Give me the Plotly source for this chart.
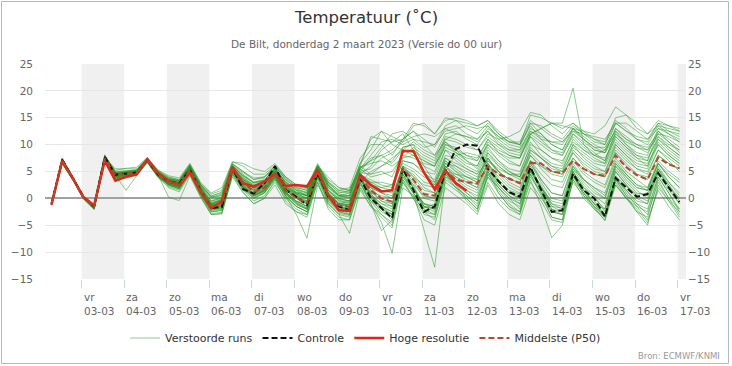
import plotly.graph_objects as go
import pandas as pd

# ---------------- data ----------------
times = pd.date_range("2023-03-02 07:00", periods=60, freq="6h")

controle = [-1.0, 7.2, 3.8, 0.3, -1.5, 7.7, 4.4, 4.6, 4.8, 7.1, 4.5,
            3.1, 2.8, 5.3, 1.5, -1.8, -1.6, 5.6, 1.7, 0.9, 2.8,
            6.0, 1.6, 0.3, -1.2, 4.7, 0.3, -1.5, -2.2, 3.7, 0.0,
            -1.8, -3.7, 5.6, 1.6, -2.5, -1.5, 5.0, 9.2, 10.0, 9.8,
            5.5, 3.2, 1.2, 0.3, 5.8, 1.6, -2.5, -2.2, 4.6, 1.5,
            0.0, -3.4, 3.8, 2.0, 0.3, 0.8, 4.7, 2.0, -0.7]

hoge_resolutie = [-1.2, 7.0, 3.7, 0.2, -1.3, 7.0, 3.3, 4.0, 4.5, 7.3, 4.7,
                  3.2, 2.5, 4.8, 1.3, -1.8, -0.6, 5.8, 2.8, 2.2, 3.1,
                  4.6, 2.3, 2.5, 2.2, 5.3, 0.6, -2.2, -2.3, 4.4, 2.5,
                  1.3, 1.5, 8.8, 8.8, 4.8, 1.7, 5.2, 2.8, 1.4]

middelste = [-1.0, 6.9, 3.7, 0.2, -1.5, 7.4, 4.3, 4.5, 4.8, 7.1, 4.5,
             3.0, 2.4, 5.3, 1.5, -1.5, -0.9, 5.4, 3.0, 1.2, 2.0,
             4.5, 1.5, 0.0, -0.8, 5.0, 0.6, -1.3, -1.6, 4.0, 1.5,
             0.0, -0.6, 5.5, 3.5, 0.8, 0.5, 5.0, 3.5, 3.0, 2.8,
             6.0, 4.5, 3.7, 2.8, 6.6, 6.5, 5.0, 4.7, 7.0, 5.5,
             4.5, 4.2, 8.0, 5.8, 4.3, 3.5, 7.6, 6.3, 5.6]

m01 = [-1.1, 6.9, 3.7, 0.1, -1.6, 7.6, 4.5, 4.6, 4.9, 7.2, 4.6, 3.2, 2.6, 5.4, 1.4, -1.7, -1.4, 5.5, 2.0, 1.0, 2.5, 5.6, 1.8, 0.4, -1.0, 4.8, 0.6, -1.4, -2.0, 3.9, 0.5, -1.5, -3.0, 5.2, 2.0, -1.8, -1.0, 5.5, 8.0, 8.5, 8.0, 6.5, 3.5, 1.5, 0.8, 6.0, 2.0, -1.5, -1.8, 5.0, 2.0, 0.5, -2.5, 4.2, 2.2, 0.8, 1.0, 5.0, 2.5, 0.0]
m02 = [-0.9, 7.3, 3.9, 0.3, -1.3, 7.8, 4.2, 4.3, 4.7, 7.0, 4.3, 2.8, 2.2, 5.8, 1.9, -1.0, -0.5, 5.9, 3.8, 2.5, 3.0, 5.0, 2.5, 1.0, 0.5, 5.5, 1.5, -0.5, -1.0, 4.5, 6.0, 9.0, 10.5, 11.0, 12.5, 11.0, 9.5, 13.0, 13.5, 12.0, 11.0, 13.5, 11.0, 9.5, 9.0, 13.0, 12.0, 10.0, 9.0, 12.5, 11.0, 9.0, 8.5, 13.0, 11.0, 9.5, 8.5, 12.0, 10.5, 9.0]
m03 = [-1.2, 6.5, 3.5, 0.0, -1.8, 7.2, 4.0, 4.4, 4.6, 6.9, 4.4, 3.0, 2.3, 5.0, 1.0, -2.0, -2.0, 5.0, 2.5, 0.5, 1.5, 4.0, 1.0, -1.0, -2.0, 4.5, 0.0, -2.5, -3.0, 3.5, 1.0, -2.0, -4.0, 4.5, 1.0, -6.0, -12.8, 3.5, 2.0, 0.5, -1.0, 4.0, 2.0, 0.0, -2.0, 4.5, 1.0, -3.5, -4.0, 4.0, 1.5, -1.0, -3.0, 3.5, 1.5, -1.0, -2.0, 4.0, 1.0, -2.5]
m04 = [-1.0, 7.1, 3.8, 0.2, -1.4, 7.4, 4.6, 4.8, 5.0, 7.3, 4.7, 3.4, 2.9, 5.6, 1.8, -1.2, -0.8, 5.4, 3.0, 1.5, 2.2, 4.8, 1.2, -0.5, -1.5, 4.2, -0.5, -2.0, -2.5, 3.0, -1.0, -4.5, -10.2, 2.0, 0.5, -2.5, -3.0, 4.0, 3.0, 1.5, 0.0, 5.5, 3.0, 1.0, 0.0, 5.0, 2.5, -1.0, -1.5, 5.5, 3.5, 2.0, 0.5, 6.0, 4.0, 2.0, 1.5, 6.5, 4.0, 2.0]
m05 = [-0.8, 7.5, 4.0, 0.4, -1.2, 8.0, 5.0, 5.2, 5.3, 7.5, 5.0, 3.8, 3.2, 6.2, 2.5, 0.5, 1.0, 6.5, 5.0, 3.5, 4.0, 6.0, 3.5, 2.0, 1.5, 6.0, 2.5, 0.5, 1.0, 6.5, 9.0, 12.5, 11.5, 10.5, 13.5, 14.0, 12.0, 14.5, 15.0, 14.5, 13.5, 14.5, 12.0, 10.5, 10.0, 15.5, 15.0, 14.0, 13.0, 14.0, 12.5, 12.0, 13.5, 17.0, 15.5, 13.0, 12.0, 14.5, 13.5, 13.0]
m06 = [-1.1, 6.8, 3.6, 0.1, -1.7, 7.3, 3.5, 3.8, 4.5, 6.8, 4.0, 2.5, 1.8, 4.8, 0.8, -2.5, -2.2, 4.8, 2.0, 0.0, 1.0, 3.5, 0.5, -1.5, -2.5, 4.0, 1.0, -1.0, -0.5, 5.0, 7.5, 8.0, 6.5, 9.0, 8.0, 6.0, 5.0, 10.0, 9.5, 8.0, 7.5, 11.0, 8.5, 7.0, 6.0, 11.5, 9.0, 7.5, 6.5, 11.0, 9.0, 7.5, 6.5, 11.5, 9.5, 7.5, 6.0, 11.0, 9.0, 7.5]
m07 = [-1.3, 6.6, 3.6, 0.0, -1.9, 7.0, 3.9, 4.1, 4.4, 6.8, 4.2, 2.7, 2.0, 5.1, 1.2, -1.8, -1.2, 5.2, 2.8, 1.2, 2.0, 4.5, 1.5, 0.0, -0.8, 5.0, 0.8, -1.2, -1.5, 4.2, 1.5, -0.5, -1.5, 5.5, 3.0, 0.0, -0.5, 6.0, 4.0, 2.5, 1.5, 6.0, 3.0, 1.0, 0.5, 6.5, 3.0, 0.0, -0.5, 6.0, 3.0, 1.0, 0.0, 5.5, 3.0, 1.0, 0.5, 6.0, 3.0, 0.5]
m08 = [-1.0, 7.0, 3.9, 0.3, -1.4, 7.7, 4.4, 4.7, 5.1, 7.4, 4.8, 3.5, 3.0, 5.9, 2.2, -0.5, 0.0, 6.0, 4.0, 2.5, 3.0, 5.5, 2.8, 1.5, 0.5, 5.8, 2.0, 0.0, -0.5, 4.5, 3.0, 2.0, 1.5, 7.0, 6.5, 4.5, 3.5, 9.0, 8.0, 6.5, 6.0, 10.5, 9.0, 8.0, 7.5, 12.0, 13.0, 14.0, 14.0, 20.5, 10.0, 8.5, 7.0, 12.5, 10.0, 8.0, 7.0, 12.5, 10.5, 8.5]
m09 = [-1.2, 6.4, 3.4, -0.1, -2.1, 6.8, 3.8, 4.0, 4.3, 6.6, 4.0, 2.2, 1.5, 4.6, 0.6, -2.8, -2.6, 4.5, 1.5, -0.5, 0.5, 3.0, 0.0, -2.0, -3.0, 3.5, -1.0, -3.0, -3.5, 2.5, 0.0, -2.5, -3.5, 4.0, 1.5, -1.0, -2.0, 4.5, 2.5, 1.0, -0.5, 5.0, 1.0, -1.5, -2.5, 3.5, -1.5, -7.3, -5.0, 3.5, 1.0, -1.5, -4.2, 2.5, 0.0, -2.0, -4.5, 2.0, -0.5, -3.5]
m10 = [-0.9, 7.2, 3.8, 0.2, -1.5, 7.5, 5.5, 5.5, 5.5, 7.5, 5.2, 4.0, 3.5, 6.4, 2.8, 0.8, 1.5, 6.8, 6.0, 4.5, 4.5, 6.2, 4.0, 2.5, 2.0, 6.5, 3.0, 1.0, 1.5, 6.0, 4.5, 5.0, 4.0, 8.5, 9.0, 7.5, 6.5, 11.0, 12.0, 11.5, 10.5, 12.5, 10.0, 8.5, 8.0, 12.0, 10.5, 9.0, 8.0, 11.5, 9.5, 8.0, 7.0, 12.0, 10.0, 8.5, 8.0, 13.0, 12.0, 11.0]
m11 = [-1.1, 7.0, 3.7, 0.2, -1.6, 7.5, 4.3, 1.5, 4.2, 7.0, 4.4, 0.2, -0.4, 4.2, 0.2, -3.0, -2.8, 4.0, 1.0, -1.0, 0.0, 3.5, -0.5, -2.5, -3.5, 3.0, -1.5, -3.5, -4.0, 2.0, -1.5, -3.0, -5.0, 3.0, 0.0, -3.0, -3.5, 3.0, 1.5, 0.0, -2.0, 3.0, 0.0, -2.0, -3.0, 3.0, 0.0, -2.5, -3.0, 4.0, 1.0, -1.5, -3.5, 3.5, 0.5, -1.0, -3.0, 3.0, 0.0, -2.0]
m12 = [-1.0, 6.9, 3.8, 0.3, -1.3, 7.6, 4.4, 4.5, 4.8, 7.2, 4.6, 3.1, 2.6, 5.3, 1.6, -1.4, -0.6, 5.6, 3.5, 2.0, 2.8, 4.8, 2.0, 0.8, 0.0, 5.2, 1.2, -0.8, -1.2, 4.6, 2.5, 1.5, 1.0, 9.5, 10.0, 6.0, 3.0, 7.5, 6.0, 4.5, 3.5, 8.0, 6.0, 4.5, 3.5, 8.5, 6.5, 5.0, 4.5, 9.0, 7.0, 5.5, 5.0, 9.5, 7.5, 5.5, 5.0, 9.0, 7.5, 6.0]
m13 = [-0.9, 7.4, 4.0, 0.4, -1.2, 8.1, 4.8, 4.9, 5.2, 7.4, 4.9, 3.6, 3.3, 6.0, 2.4, 0.2, 0.8, 6.2, 4.5, 3.0, 3.5, 5.5, 3.0, 1.8, 1.0, 6.2, 3.5, 2.0, 1.5, 6.5, 11.0, 12.5, 10.0, 9.0, 10.5, 9.0, 8.0, 12.0, 12.5, 11.0, 10.0, 13.0, 11.5, 10.0, 9.5, 14.0, 12.0, 10.0, 9.0, 13.0, 12.5, 11.0, 10.5, 14.5, 13.0, 11.0, 10.0, 13.5, 12.0, 10.5]
m14 = [-1.2, 6.7, 3.6, 0.0, -1.8, 7.1, 3.7, 3.9, 4.4, 6.9, 4.1, 2.6, 1.9, 4.9, 1.0, -2.2, -1.8, 5.0, 2.2, 0.5, 1.5, 4.0, 0.5, -3.0, -7.4, 2.5, -1.0, -3.0, -6.5, 1.5, -1.5, -3.5, -5.5, 3.0, 0.5, -2.5, -4.0, 4.0, 2.0, 0.5, -1.5, 4.5, 2.0, 0.0, -1.0, 5.5, 2.0, -1.0, -2.0, 5.0, 2.0, 0.0, -2.0, 5.0, 2.5, 0.0, -1.0, 5.5, 2.5, -0.5]
m15 = [-1.0, 7.1, 3.9, 0.3, -1.4, 7.4, 4.5, 4.6, 4.9, 7.1, 4.5, 3.3, 2.8, 5.5, 1.7, -1.1, -0.4, 5.7, 3.2, 1.8, 2.5, 5.0, 2.2, 1.0, 0.5, 5.5, 2.0, 0.5, 0.0, 5.5, 7.0, 8.0, 9.0, 11.0, 14.0, 13.5, 12.0, 15.0, 14.5, 13.0, 12.0, 14.0, 12.0, 10.5, 10.0, 13.5, 11.0, 9.0, 8.5, 12.0, 10.0, 8.0, 7.5, 11.0, 9.0, 7.5, 7.0, 11.5, 9.5, 8.0]
m16 = [-1.1, 6.8, 3.7, 0.2, -1.5, 7.3, 4.2, 4.4, 4.7, 7.0, 4.4, 2.9, 2.4, 5.2, 1.3, -1.6, -1.0, 5.3, 2.6, 1.0, 1.8, 4.2, 1.0, -0.5, -1.0, 4.6, 0.3, -1.8, -2.0, 3.8, 1.0, 0.5, 0.0, 6.0, 4.0, 2.5, 2.0, 7.0, 5.0, 4.0, 3.0, 7.5, 5.0, 3.5, 3.0, 8.0, 6.0, 4.5, 4.0, 8.5, 6.0, 4.5, 4.0, 8.5, 6.0, 4.5, 3.5, 8.0, 6.5, 5.5]
m17 = [-1.0, 7.2, 3.8, 0.2, -1.4, 7.7, 4.6, 4.8, 5.0, 7.3, 4.8, 3.5, 3.1, 5.9, 2.1, -0.6, 0.2, 6.0, 4.2, 2.8, 3.2, 5.8, 2.8, 1.2, 0.8, 5.8, 2.5, 0.8, 0.5, 5.5, 4.0, 4.5, 5.0, 8.0, 7.5, 6.5, 6.0, 10.0, 9.0, 8.0, 7.0, 11.0, 9.5, 8.0, 7.5, 11.5, 10.0, 8.5, 8.0, 12.0, 10.5, 9.0, 8.5, 13.0, 11.5, 10.0, 9.0, 12.5, 11.0, 9.5]
m18 = [-1.1, 7.0, 3.8, 0.2, -1.5, 7.4, 4.1, 4.3, 4.6, 7.0, 4.3, 2.8, 2.4, 5.0, 1.0, -2.0, -1.8, 5.2, 1.8, 0.5, 1.5, 4.5, 1.0, -0.5, -1.5, 4.5, 0.0, -2.0, -2.5, 3.5, 0.0, -1.5, -2.5, 5.0, 2.0, -1.0, -1.5, 5.0, 4.0, 3.0, 2.0, 6.5, 3.0, 1.0, 0.0, 5.5, 1.5, -2.0, -2.5, 4.5, 1.5, -0.5, -3.0, 4.0, 1.5, -0.5, -1.0, 4.5, 1.5, -1.0]
m19 = [-0.9, 7.3, 3.9, 0.3, -1.3, 7.9, 4.7, 5.0, 5.2, 7.4, 4.9, 3.6, 3.4, 6.1, 2.6, 0.3, 0.5, 6.3, 4.8, 3.5, 3.8, 6.0, 3.5, 2.0, 1.5, 6.2, 2.5, 0.5, 0.5, 5.8, 6.5, 7.0, 6.0, 7.5, 9.5, 8.0, 7.0, 11.5, 11.0, 10.0, 9.0, 12.0, 11.0, 11.5, 12.5, 16.0, 15.5, 13.5, 12.0, 14.0, 12.0, 10.5, 10.0, 14.0, 12.5, 11.0, 10.5, 14.0, 13.5, 12.5]
m20 = [-1.3, 6.5, 3.5, -0.1, -2.0, 6.9, 3.6, 3.8, 4.2, 6.7, 3.9, 2.0, 1.2, 4.4, 0.4, -3.0, -2.9, 4.3, 1.2, -1.0, 0.0, 2.5, -1.0, -2.5, -3.0, 3.0, -2.0, -4.0, -4.0, 2.0, -0.5, -2.0, -3.0, 3.5, 0.0, -4.0, -5.0, 2.0, 0.5, -1.0, -3.0, 2.5, -1.0, -3.0, -4.0, 2.0, -0.5, -4.0, -4.5, 3.5, 0.0, -2.0, -3.5, 3.0, 0.0, -1.5, -4.0, 1.5, -1.5, -4.0]
m21 = [-1.0, 7.0, 3.8, 0.3, -1.4, 7.5, 4.4, 4.6, 4.9, 7.1, 4.6, 3.2, 2.7, 5.5, 1.6, -1.2, -0.2, 5.7, 3.5, 2.2, 2.8, 5.2, 2.0, 0.5, 0.0, 5.2, 1.5, 0.0, -0.5, 4.0, 3.0, 3.0, 2.5, 6.5, 5.5, 4.0, 3.0, 8.0, 7.5, 6.0, 5.0, 9.0, 7.0, 5.5, 5.0, 9.5, 7.5, 6.0, 5.5, 9.5, 8.0, 6.5, 6.0, 10.0, 8.0, 6.5, 6.0, 10.5, 8.5, 7.0]
m22 = [-1.1, 6.9, 3.7, 0.1, -1.6, 7.2, 4.0, 4.2, 4.5, 6.9, 4.2, 2.6, 2.0, 5.0, 1.1, -1.9, -1.5, 5.0, 2.5, 0.8, 1.6, 4.4, 1.2, -0.8, -1.8, 4.4, 0.2, -1.6, -2.2, 3.6, 0.8, -1.0, -2.0, 5.0, 2.5, 0.5, 0.0, 6.0, 3.5, 2.0, 1.0, 5.5, 2.5, 0.5, -0.5, 5.0, 2.0, -0.5, -1.0, 5.5, 2.5, 0.5, -1.0, 5.0, 2.5, 0.5, -0.5, 5.0, 2.0, 0.0]
m23 = [-0.9, 7.4, 4.0, 0.4, -1.2, 7.9, 5.2, 5.6, 5.8, 7.6, 5.3, 4.2, 3.8, 6.5, 3.0, 1.0, 2.0, 6.8, 6.5, 5.5, 5.0, 6.5, 4.0, 2.5, 2.5, 6.0, 4.0, 2.0, 1.5, 5.5, 8.0, 10.5, 11.0, 10.0, 11.0, 10.5, 10.0, 13.5, 14.5, 14.0, 13.5, 14.5, 12.5, 11.0, 10.0, 14.0, 13.5, 12.0, 11.0, 13.5, 12.0, 11.0, 10.0, 15.0, 15.5, 14.0, 12.0, 13.5, 13.0, 12.5]
m24 = [-1.2, 6.6, 3.5, 0.0, -1.9, 7.0, 3.8, 4.0, 4.3, 6.8, 4.1, 2.4, 1.7, 4.7, 0.7, -2.5, -2.3, 4.6, 1.8, 0.2, 1.0, 3.8, 0.2, -1.5, -2.5, 3.8, -0.5, -2.5, -3.0, 3.0, 5.0, 6.0, 7.5, 9.0, 8.5, 5.0, 2.5, 7.0, 5.5, 4.0, 3.0, 7.5, 5.0, 3.0, 2.0, 7.0, 4.5, 2.5, 2.0, 7.0, 4.5, 3.0, 2.0, 7.0, 4.5, 2.5, 2.0, 6.5, 4.5, 3.0]
m25 = [-1.1, 7.1, 3.8, 0.2, -1.5, 7.4, 4.3, 4.5, 4.8, 7.1, 4.5, 3.0, 2.4, 5.4, 1.5, -1.5, -1.2, 5.4, 2.4, 0.8, 2.0, 4.6, 1.4, 0.2, -0.5, 5.0, 0.8, -1.0, -1.5, 4.0, 0.5, -1.0, -1.5, 5.5, 2.5, -1.5, -2.0, 5.5, 3.0, 1.0, -0.5, 5.0, 2.0, -0.5, -1.5, 5.0, 1.5, -2.5, -3.0, 5.0, 1.0, -1.0, -2.0, 6.0, 3.5, 1.5, 0.0, 5.5, 2.0, -1.0]
m26 = [-1.0, 7.2, 3.9, 0.3, -1.4, 7.6, 4.8, 5.0, 5.2, 7.3, 5.0, 3.7, 3.2, 6.0, 2.3, 0.0, 0.6, 6.1, 4.2, 3.0, 3.4, 5.6, 3.2, 1.6, 1.2, 5.8, 2.8, 1.2, 1.0, 5.0, 5.5, 7.5, 8.5, 10.5, 11.5, 12.0, 11.5, 13.0, 12.0, 11.5, 11.0, 12.5, 10.5, 9.0, 9.0, 12.5, 11.5, 10.5, 10.0, 13.0, 11.0, 9.5, 9.5, 12.5, 11.0, 10.0, 9.5, 12.0, 11.5, 10.5]
m27 = [-1.2, 6.7, 3.6, 0.1, -1.7, 7.2, 4.0, 4.2, 4.5, 6.9, 4.2, 2.6, 2.1, 5.1, 1.2, -1.9, -1.6, 5.1, 2.0, 0.5, 1.2, 4.0, 0.8, -1.2, -2.0, 4.2, -0.2, -2.2, -2.8, 2.8, -1.0, -6.0, -4.0, 3.5, 1.0, -1.5, -2.5, 5.0, 4.5, 4.0, 3.5, 8.5, 6.5, 5.0, 4.0, 9.0, 7.5, 6.0, 5.0, 10.0, 7.5, 6.0, 5.0, 10.0, 8.0, 6.0, 5.5, 10.0, 8.0, 6.5]
m28 = [-1.0, 7.0, 3.8, 0.2, -1.5, 7.5, 4.4, 4.6, 4.8, 7.1, 4.5, 3.1, 2.5, 5.4, 1.6, -1.3, -0.7, 5.5, 3.0, 1.4, 2.2, 4.6, 1.6, 0.2, -0.8, 5.0, 0.8, -1.2, -1.5, 4.2, 2.0, 1.0, 0.5, 6.0, 5.0, 3.0, 2.5, 7.5, 6.5, 5.5, 4.5, 7.0, 5.0, 3.5, 3.0, 7.0, 6.0, 5.0, 4.5, 7.5, 5.5, 4.5, 4.0, 8.5, 6.5, 4.5, 4.0, 8.0, 6.5, 5.5]
m29 = [-0.9, 7.3, 3.9, 0.3, -1.3, 7.8, 4.6, 4.8, 5.0, 7.3, 4.7, 3.4, 2.9, 5.8, 2.0, -0.8, -0.1, 5.8, 3.8, 2.2, 2.8, 5.4, 2.4, 1.0, 0.5, 5.6, 2.2, 0.3, 0.5, 6.0, 11.5, 11.0, 10.5, 12.0, 9.0, 7.0, 6.0, 10.5, 9.0, 7.0, 5.5, 9.5, 7.0, 5.0, 4.0, 8.0, 5.5, 3.5, 3.0, 7.5, 5.0, 3.5, 2.5, 7.5, 5.0, 3.5, 2.0, 7.0, 5.0, 3.5]
m30 = [-1.1, 6.8, 3.7, 0.1, -1.6, 7.3, 4.2, 4.4, 4.7, 7.0, 4.3, 2.9, 2.3, 5.1, 1.3, -1.8, -1.4, 5.3, 2.3, 0.6, 1.4, 4.2, 0.8, -0.8, -1.8, 4.5, 0.4, -1.6, -2.0, 4.0, 0.5, -2.0, -3.0, 4.5, 1.5, -1.0, -1.5, 5.0, 2.5, 0.0, -2.0, 4.0, 1.0, -1.5, -3.0, 5.5, 2.0, -1.5, -2.5, 4.5, 1.5, -1.0, -3.5, 4.0, 1.0, -1.5, -2.5, 4.0, 1.0, -2.0]
m31 = [-1.0, 6.9, 3.7, 0.2, -1.5, 7.5, 4.4, 4.7, 5.0, 7.2, 4.6, 3.3, 2.7, 5.5, 1.7, -1.4, -1.0, 5.6, 2.8, 1.6, 2.6, 5.0, 2.0, 0.6, -0.4, 5.2, 1.0, -1.0, -1.2, 4.3, 2.0, 0.0, -1.0, 6.0, 4.0, 1.5, 1.0, 6.5, 6.0, 5.0, 4.0, 7.5, 4.5, 2.5, 1.5, 7.0, 3.5, 1.0, 0.5, 6.5, 3.5, 2.0, 1.0, 6.5, 4.0, 2.0, 1.5, 6.5, 4.0, 2.0]
m32 = [-0.9, 7.2, 3.9, 0.3, -1.3, 7.7, 4.9, 5.1, 5.3, 7.4, 5.1, 3.9, 3.4, 6.2, 2.6, 0.4, 1.2, 6.4, 5.0, 3.8, 4.0, 6.0, 3.8, 2.2, 1.8, 6.0, 3.2, 1.5, 1.2, 5.8, 7.0, 9.5, 12.0, 12.5, 11.0, 9.5, 10.0, 12.5, 13.0, 13.5, 13.0, 13.5, 11.5, 10.5, 10.5, 14.5, 13.0, 11.5, 10.5, 12.5, 12.0, 11.5, 11.0, 14.0, 12.5, 11.5, 11.0, 14.0, 12.5, 11.5]
m33 = [-1.2, 6.6, 3.5, 0.0, -1.9, 7.1, 3.9, 4.1, 4.4, 6.8, 4.1, 2.5, 1.8, 4.8, 0.9, -2.3, -2.1, 4.7, 1.6, 0.0, 1.0, 3.8, 0.5, -1.5, -2.5, 4.0, -0.8, -2.8, -3.2, 3.0, -0.5, -3.0, -4.5, 4.0, 1.0, -2.0, -3.0, 4.5, 2.0, -0.5, -2.5, 4.5, 1.5, -1.0, -2.5, 4.5, 0.5, -3.5, -4.0, 4.5, 0.5, -2.0, -4.0, 3.5, 0.5, -2.5, -3.5, 3.5, 0.0, -3.0]
m34 = [-1.0, 7.1, 3.8, 0.2, -1.4, 7.6, 4.5, 4.7, 4.9, 7.2, 4.6, 3.3, 2.8, 5.6, 1.8, -1.0, -0.3, 5.8, 3.4, 2.0, 2.6, 5.0, 2.2, 0.8, 0.2, 5.4, 1.4, -0.4, -0.8, 4.4, 3.5, 2.5, 2.0, 7.0, 6.5, 5.0, 4.5, 9.0, 7.0, 5.5, 4.5, 8.5, 6.0, 4.5, 4.0, 9.0, 7.5, 5.5, 5.0, 8.5, 6.5, 5.0, 4.5, 9.0, 7.0, 5.5, 4.5, 9.0, 7.0, 5.0]
m35 = [-1.1, 6.9, 3.7, 0.2, -1.5, 7.4, 4.6, 4.8, 5.0, 7.2, 4.7, 3.3, 2.9, 5.7, 1.9, -0.9, -0.2, 5.8, 3.6, 2.3, 2.9, 5.3, 2.6, 1.2, 0.6, 5.6, 2.4, 0.6, 0.2, 4.8, 4.5, 6.0, 7.0, 9.5, 10.0, 8.5, 7.5, 11.0, 10.5, 9.5, 9.0, 11.5, 10.0, 9.0, 8.5, 12.5, 11.0, 10.5, 10.5, 13.0, 11.5, 10.0, 9.0, 12.0, 10.5, 9.5, 9.0, 11.5, 10.0, 9.0]
m36 = [-1.2, 6.8, 3.6, 0.1, -1.7, 7.3, 4.1, 4.3, 4.6, 6.9, 4.3, 2.8, 2.2, 5.1, 1.2, -1.8, -1.3, 5.1, 2.2, 0.8, 1.7, 4.3, 1.2, -0.6, -1.4, 4.7, 0.4, -1.5, -1.8, 3.9, 1.2, -0.5, -1.0, 5.8, 3.5, 0.5, 0.0, 6.0, 4.5, 3.5, 2.5, 6.5, 4.0, 2.0, 1.0, 6.5, 3.5, 1.0, 0.5, 6.0, 3.5, 1.5, 0.0, 6.5, 4.5, 2.5, 1.5, 5.5, 3.0, 1.0]
m37 = [-1.0, 7.0, 3.8, 0.3, -1.4, 7.5, 4.5, 4.6, 4.9, 7.1, 4.6, 3.2, 2.6, 5.4, 1.6, -1.3, -0.8, 5.5, 3.1, 1.6, 2.4, 4.8, 1.8, 0.4, -0.6, 5.1, 1.0, -1.0, -1.2, 4.3, 2.0, 1.0, 0.0, 5.5, 4.5, 2.0, 1.0, 6.5, 5.0, 3.0, 2.0, 7.0, 5.5, 4.5, 4.5, 10.0, 9.0, 7.5, 7.0, 10.5, 9.0, 8.0, 9.0, 14.0, 14.0, 12.5, 11.0, 13.0, 12.5, 12.0]
m38 = [-1.1, 6.8, 3.6, 0.1, -1.6, 7.2, 4.0, 4.2, 4.5, 6.9, 4.3, 2.7, 2.1, 5.0, 1.1, -2.0, -1.7, 5.0, 2.1, 0.4, 1.3, 4.1, 0.9, -1.0, -2.0, 4.2, 0.0, -2.0, -2.5, 3.4, 0.5, -1.5, -2.5, 4.5, 2.0, -1.5, -2.0, 4.5, 3.0, 1.5, 0.5, 5.0, 2.5, 0.5, -1.0, 4.0, 1.0, -2.0, -3.0, 3.0, 0.5, -1.5, -3.0, 2.5, 0.0, -2.5, -5.0, 2.5, -0.5, -2.5]
m39 = [-0.9, 7.3, 3.9, 0.3, -1.3, 7.7, 4.6, 4.8, 5.1, 7.3, 4.8, 3.5, 3.0, 5.9, 2.2, -0.4, 0.3, 6.0, 4.3, 2.9, 3.3, 5.6, 3.0, 1.5, 1.0, 6.0, 3.0, 1.5, 2.0, 7.5, 10.0, 10.0, 8.0, 11.0, 12.5, 10.0, 8.0, 10.5, 8.5, 7.0, 6.0, 10.0, 8.0, 6.5, 6.0, 10.5, 8.0, 6.5, 6.0, 10.0, 8.5, 7.0, 6.5, 10.5, 8.5, 7.0, 6.5, 10.0, 8.0, 6.5]
m40 = [-1.0, 7.1, 3.8, 0.2, -1.5, 7.5, 4.5, 4.7, 4.9, 7.2, 4.7, 3.4, 2.9, 5.6, 1.8, -1.1, -0.4, 5.7, 3.3, 1.9, 2.6, 5.1, 2.2, 0.8, 0.0, 5.3, 1.6, -0.2, -0.5, 4.4, 2.5, 2.0, 2.5, 7.5, 8.0, 7.0, 6.0, 9.5, 8.5, 7.5, 7.0, 10.0, 8.5, 7.5, 7.5, 12.0, 13.0, 14.0, 13.5, 13.0, 11.0, 9.5, 8.5, 11.5, 9.5, 8.0, 7.5, 11.0, 9.5, 8.0]

verstoorde_runs = [m01, m02, m03, m04, m05, m06, m07, m08, m09, m10,
                   m11, m12, m13, m14, m15, m16, m17, m18, m19, m20,
                   m21, m22, m23, m24, m25, m26, m27, m28, m29, m30,
                   m31, m32, m33, m34, m35, m36, m37, m38, m39, m40]

day_names = ["vr", "za", "zo", "ma", "di", "wo", "do", "vr", "za", "zo", "ma", "di", "wo", "do", "vr"]
day_dates = ["03-03", "04-03", "05-03", "06-03", "07-03", "08-03", "09-03", "10-03",
             "11-03", "12-03", "13-03", "14-03", "15-03", "16-03", "17-03"]
y_ticks = [-15, -10, -5, 0, 5, 10, 15, 20, 25]

# ---------------- figure ----------------
FONT = "DejaVu Sans"
days = pd.date_range("2023-03-03", periods=15, freq="D")
x_min = pd.Timestamp("2023-03-02 03:19")
x_max = pd.Timestamp("2023-03-17 04:41")

fig = go.Figure()

for k, run in enumerate(verstoorde_runs):
    fig.add_trace(go.Scatter(
        x=times, y=run, mode="lines",
        line=dict(color="rgba(30,150,30,0.5)", width=1),
        name="Verstoorde runs", legendgroup="ens", showlegend=(k == 0),
        hoverinfo="skip"))

fig.add_trace(go.Scatter(x=times, y=controle, mode="lines",
                         line=dict(color="#111111", width=2, dash="6px,3px"),
                         name="Controle"))
fig.add_trace(go.Scatter(x=times[:len(hoge_resolutie)], y=hoge_resolutie, mode="lines",
                         line=dict(color="#e0261b", width=2.5),
                         name="Hoge resolutie"))
fig.add_trace(go.Scatter(x=times, y=middelste, mode="lines",
                         line=dict(color="#b8462f", width=2, dash="6px,3px"),
                         name="Middelste (P50)"))
# invisible trace to carry the right-hand axis
fig.add_trace(go.Scatter(x=times, y=controle, yaxis="y2", mode="lines",
                         line=dict(width=0), opacity=0, showlegend=False,
                         hoverinfo="skip"))

shapes = []
for d in days[::2]:
    x1 = min(d + pd.Timedelta(days=1), x_max)
    shapes.append(dict(type="rect", xref="x", yref="paper", x0=d, x1=x1, y0=0, y1=1,
                       fillcolor="#f0f0f0", line=dict(width=0), layer="below"))
# outer border
W, H, L, R, T, B = 732, 366, 45, 46, 64, 87
pw, ph = W - L - R, H - T - B
def px(x): return (x - L) / pw
def py(y): return (H - B - y) / ph
shapes.append(dict(type="rect", xref="paper", yref="paper",
                   x0=px(1.5), x1=px(728.5), y0=py(1.5), y1=py(363.5),
                   line=dict(color="#a9bccd", width=1), fillcolor="rgba(0,0,0,0)"))

annotations = [
    dict(text="Temperatuur (˚C)", xref="paper", yref="paper", x=px(366), y=py(17),
         xanchor="center", yanchor="middle", showarrow=False,
         font=dict(family=FONT, size=16.5, color="#333333")),
    dict(text="De Bilt, donderdag 2 maart 2023 (Versie do 00 uur)", xref="paper", yref="paper",
         x=px(366), y=py(44), xanchor="center", yanchor="middle", showarrow=False,
         font=dict(family=FONT, size=10.5, color="#666666")),
    dict(text="Bron: ECMWF/KNMI", xref="paper", yref="paper", x=px(722), y=py(356),
         xanchor="right", yanchor="middle", showarrow=False,
         font=dict(family=FONT, size=8.5, color="#999999")),
]
for d, n, s in zip(days, day_names, day_dates):
    annotations.append(dict(text=f"{n}<br>{s}", xref="x", yref="paper", x=d, y=py(289),
                            xanchor="left", yanchor="top", align="left", showarrow=False,
                            font=dict(family=FONT, size=10.5, color="#666666")))

fig.update_layout(
    width=W, height=H,
    margin=dict(l=L, r=R, t=T, b=B),
    paper_bgcolor="white", plot_bgcolor="white",
    font=dict(family=FONT, size=11, color="#333333"),
    xaxis=dict(type="date", range=[x_min, x_max], showgrid=False, zeroline=False,
               tickvals=list(days), ticks="outside", ticklen=8, tickcolor="#ccd6eb",
               tickwidth=1, showticklabels=False, showline=False, fixedrange=True),
    yaxis=dict(range=[-15, 25], tickvals=y_ticks, gridcolor="#e6e6e6", gridwidth=1,
               zeroline=True, zerolinecolor="#a0a0a0", zerolinewidth=2,
               tickfont=dict(family=FONT, size=10.5, color="#666666"),
               ticklabelstandoff=11, showline=False),
    yaxis2=dict(range=[-15, 25], tickvals=y_ticks, overlaying="y", side="right",
                showgrid=False, zeroline=False,
                tickfont=dict(family=FONT, size=10.5, color="#666666"),
                ticklabelstandoff=1, showline=False),
    legend=dict(orientation="h", x=0.5, xanchor="center", y=py(338), yanchor="middle",
                font=dict(family=FONT, size=11, color="#333333"),
                bgcolor="rgba(0,0,0,0)", traceorder="normal"),
    shapes=shapes,
    annotations=annotations,
    showlegend=True,
)

fig.write_html("out.html", config={"displayModeBar": False},
               post_script="document.body.style.margin='0px';document.body.style.overflow='hidden';")
